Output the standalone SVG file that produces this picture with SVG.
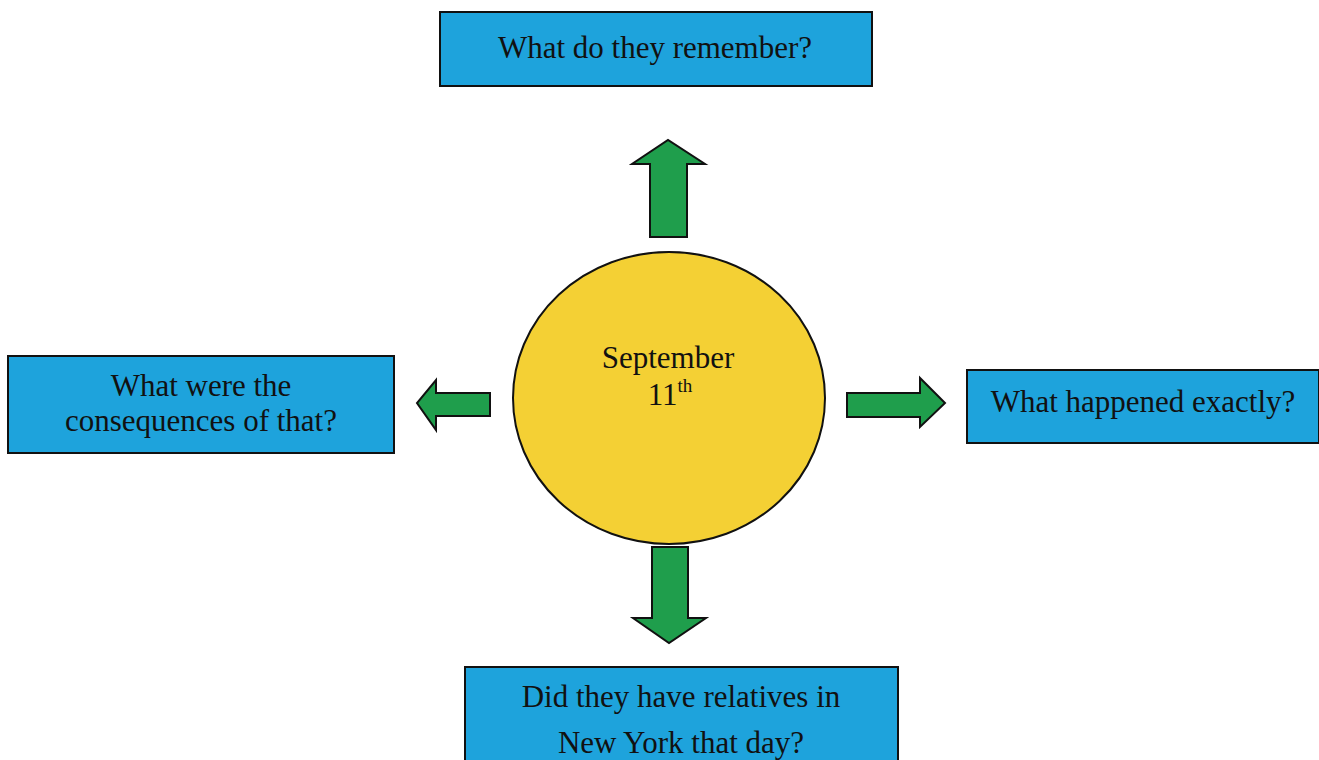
<svg xmlns="http://www.w3.org/2000/svg" width="1319" height="760" viewBox="0 0 1319 760">
<style>
.box{fill:#1ea3dc;stroke:#111;stroke-width:2}
.arr{fill:#1f9e4c;stroke:#111;stroke-width:2;stroke-linejoin:miter}
.t{font-family:"Liberation Serif","Times New Roman",serif;font-size:31px;fill:#111;text-anchor:middle}
</style>
<rect width="1319" height="760" fill="#fff"/>
<g id="center">
<ellipse cx="669" cy="398" rx="156" ry="146" fill="#f4d034" stroke="#111" stroke-width="2"/>
<text class="t" x="668" y="368">September</text>
<text class="t" x="670" y="405">11<tspan font-size="19" dy="-13">th</tspan></text>
</g>
<g id="top">
<rect class="box" x="440" y="12" width="432" height="74"/>
<text class="t" x="655" y="58">What do they remember?</text>
</g>
<g id="left">
<rect class="box" x="8" y="356" width="386" height="97"/>
<text class="t" x="201" y="396">What were the</text>
<text class="t" x="201" y="431">consequences of that?</text>
</g>
<g id="right">
<rect class="box" x="967" y="370" width="352" height="73"/>
<text class="t" x="1143" y="412">What happened exactly?</text>
</g>
<g id="bottom">
<rect class="box" x="465" y="667" width="433" height="100"/>
<text class="t" x="681" y="707">Did they have relatives in</text>
<text class="t" x="681" y="753">New York that day?</text>
</g>
<g id="connectors">
<polygon class="arr" points="650,237 650,164 632,164 668,140 705,164 687,164 687,237"/>
<polygon class="arr" points="490,393 436,393 436,380 417,403 436,430 436,416 490,416"/>
<polygon class="arr" points="847,393 920,393 920,378 945,403 920,427 920,417 847,417"/>
<polygon class="arr" points="652,547 688,547 688,618 706,618 669,643 633,618 652,618"/>
</g>
</svg>
